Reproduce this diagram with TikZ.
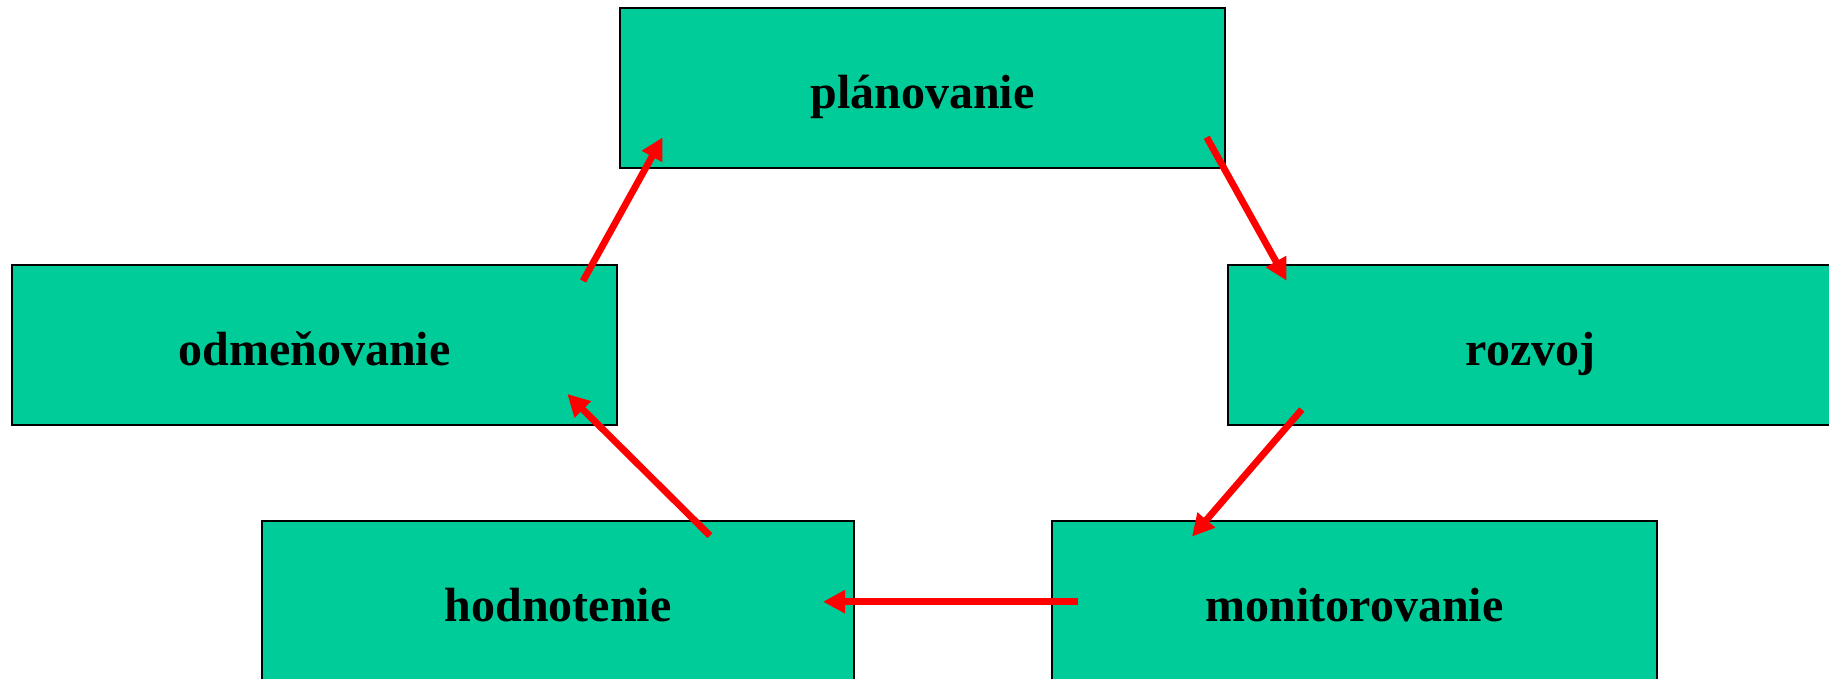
\documentclass[tikz,border=0pt]{standalone}
\usepackage{fontspec}
\setmainfont{Liberation Serif}
\usetikzlibrary{arrows.meta,calc}
\definecolor{boxgreen}{HTML}{00CC99}
\definecolor{arrred}{HTML}{FF0000}
\tikzset{
  stagebox/.style={draw=black, line width=1pt, fill=boxgreen, rectangle,
    minimum height=80pt, inner sep=0pt, text height=25.5pt, text depth=5pt,
    font=\bfseries\fontsize{24}{28}\selectfont, text=black},
  flowarrow/.style={draw=arrred, line width=3.4pt,
    -{Triangle[length=11pt,width=11pt]}}
}
\begin{document}
\begin{tikzpicture}[x=0.5pt,y=-0.5pt]
\useasboundingbox (0,0) rectangle (1829,679);
\clip (0,0) rectangle (1829,679);
\node[stagebox, minimum width=302.5pt] (pl)  at (922.5,88.5) {plánovanie};
\node[stagebox, minimum width=302.5pt] (odm) at (314.5,345) {odmeňovanie};
\node[stagebox, minimum width=302.5pt] (roz) at (1530.5,345) {rozvoj};
\node[stagebox, minimum width=296pt]   (hod) at (558,601) {hodnotenie};
\node[stagebox, minimum width=302.5pt] (mon) at (1354.5,601) {monitorovanie};
\draw[flowarrow] ($(odm.center)+(268.5,-64)$) -- ($(pl.center)+(-259.8,48.8)$);
\draw[flowarrow] ($(pl.center)+(284.2,48.8)$) -- ($(roz.center)+(-243.8,-64.3)$);
\draw[flowarrow] ($(roz.center)+(-228.7,64.5)$) -- ($(mon.center)+(-162.5,-64.4)$);
\draw[flowarrow] ($(mon.center)+(-276.5,0.7)$) -- ($(hod.center)+(265,0.7)$);
\draw[flowarrow] ($(hod.center)+(152,-65.3)$) -- ($(odm.center)+(252.8,49)$);
\end{tikzpicture}
\end{document}
